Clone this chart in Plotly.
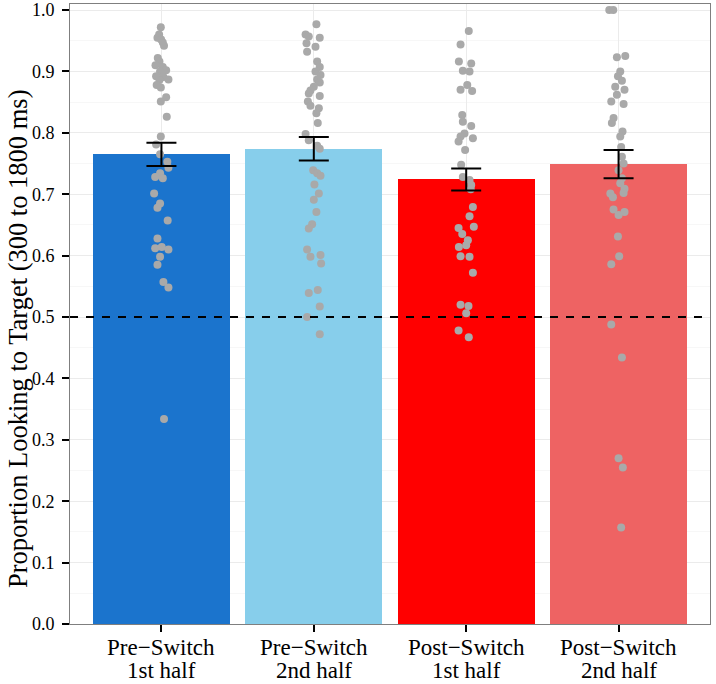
import plotly.graph_objects as go

# ---- data -----------------------------------------------------------------
cat_line1 = ["Pre\u2212Switch", "Pre\u2212Switch", "Post\u2212Switch", "Post\u2212Switch"]
cat_line2 = ["1st half", "2nd half", "1st half", "2nd half"]
bar_means = [0.765, 0.774, 0.724, 0.749]
bar_se = [0.019, 0.019, 0.018, 0.023]
bar_colors = ["#1B74CD", "#87CEEB", "#FF0000", "#EE6363"]

g1_vals = [0.972, 0.960, 0.955, 0.952, 0.947, 0.942, 0.922, 0.916, 0.910, 0.907,
           0.902, 0.900, 0.892, 0.891, 0.887, 0.886, 0.878, 0.874, 0.858, 0.851,
           0.826, 0.794, 0.781, 0.765, 0.753, 0.743, 0.734, 0.728, 0.726, 0.701,
           0.685, 0.678, 0.657, 0.628, 0.612, 0.614, 0.610, 0.598, 0.585, 0.557,
           0.548, 0.334]
g1_jit = [-0.004, -0.015, -0.026, -0.002, 0.009, 0.017, -0.024, -0.013, -0.039, 0.009,
          0.031, -0.009, -0.035, 0.013, 0.046, -0.013, -0.031, -0.004, 0.031, -0.004,
          0.035, -0.004, -0.035, -0.009, 0.039, 0.046, -0.009, -0.041, 0.009, -0.048,
          -0.009, -0.026, 0.041, -0.026, -0.041, 0.002, 0.046, -0.009, -0.026, 0.013,
          0.046, 0.017]

g2_vals = [0.977, 0.960, 0.957, 0.955, 0.946, 0.940, 0.932, 0.916, 0.907, 0.900,
           0.894, 0.887, 0.882, 0.875, 0.869, 0.864, 0.860, 0.851, 0.844, 0.840,
           0.832, 0.816, 0.798, 0.788, 0.779, 0.774, 0.739, 0.734, 0.730, 0.716,
           0.701, 0.691, 0.671, 0.651, 0.644, 0.610, 0.598, 0.601, 0.587, 0.539,
           0.544, 0.517, 0.500, 0.472]
g2_jit = [0.017, -0.054, -0.033, 0.039, -0.048, 0.011, -0.044, 0.022, 0.039, 0.011,
          0.044, 0.022, 0.039, 0.000, -0.022, -0.033, 0.039, -0.039, -0.022, 0.033,
          0.017, 0.026, -0.054, -0.033, 0.022, 0.039, -0.004, 0.022, 0.044, 0.004,
          0.033, 0.000, 0.017, -0.011, -0.033, -0.044, -0.022, 0.044, 0.048, -0.033,
          0.026, 0.039, -0.044, 0.039]

g3_vals = [0.966, 0.944, 0.916, 0.913, 0.901, 0.900, 0.878, 0.870, 0.868, 0.829,
           0.818, 0.811, 0.799, 0.794, 0.791, 0.786, 0.772, 0.748, 0.728, 0.723,
           0.715, 0.708, 0.679, 0.664, 0.647, 0.645, 0.635, 0.625, 0.614, 0.617,
           0.599, 0.598, 0.572, 0.520, 0.518, 0.506, 0.478, 0.467]
g3_jit = [0.017, -0.037, -0.048, 0.033, -0.022, 0.022, 0.007, -0.037, 0.039, -0.026,
          -0.022, 0.033, -0.011, -0.037, 0.044, -0.050, -0.007, -0.033, -0.022, 0.022,
          0.033, 0.030, 0.044, 0.022, 0.050, -0.050, -0.026, 0.011, -0.048, 0.000,
          -0.037, 0.022, 0.044, -0.037, 0.015, 0.000, -0.050, 0.017]

g4_vals = [1.000, 1.000, 0.923, 0.925, 0.900, 0.892, 0.885, 0.875, 0.870, 0.862,
           0.851, 0.847, 0.824, 0.816, 0.802, 0.794, 0.777, 0.761, 0.750, 0.739,
           0.726, 0.718, 0.709, 0.702, 0.701, 0.695, 0.675, 0.666, 0.671, 0.631,
           0.599, 0.586, 0.488, 0.434, 0.270, 0.255, 0.157]
g4_jit = [-0.061, -0.035, -0.011, 0.044, 0.011, -0.004, 0.022, -0.022, 0.039, -0.011,
          -0.048, 0.033, -0.033, -0.044, 0.026, 0.011, 0.017, 0.022, 0.033, 0.000,
          0.022, 0.011, 0.039, 0.033, -0.054, -0.037, -0.033, 0.000, 0.039, -0.004,
          0.004, -0.048, -0.048, 0.022, 0.000, 0.028, 0.017]

y_title = "Proportion Looking to Target (300 to 1800 ms)"
y_ticks = [0.0, 0.1, 0.2, 0.3, 0.4, 0.5, 0.6, 0.7, 0.8, 0.9, 1.0]
chance_level = 0.5

# ---- figure ---------------------------------------------------------------
FONT = "Liberation Serif"
positions = list(range(len(cat_line1)))

fig = go.Figure()
fig.add_trace(go.Bar(x=positions, y=bar_means, width=0.9,
                     marker=dict(color=bar_colors, line=dict(width=0)),
                     showlegend=False, hoverinfo="skip"))

groups = [(g1_vals, g1_jit), (g2_vals, g2_jit), (g3_vals, g3_jit), (g4_vals, g4_jit)]
for i, (vals, jit) in enumerate(groups):
    fig.add_trace(go.Scatter(x=[i + j for j in jit], y=vals, mode="markers",
                             marker=dict(color="#A9A9A9", size=8, line=dict(width=0)),
                             showlegend=False, hoverinfo="skip", cliponaxis=False))

fig.add_trace(go.Scatter(x=positions, y=bar_means, mode="markers",
                         marker=dict(size=1, opacity=0),
                         error_y=dict(type="data", array=bar_se, color="black",
                                      thickness=2, width=15),
                         showlegend=False, hoverinfo="skip"))

fig.add_shape(type="line", xref="paper", yref="y", x0=0, x1=1,
              y0=chance_level, y1=chance_level,
              line=dict(color="black", width=1.8, dash="8px,8px"), layer="above")

# two-line category labels under the axis
for i in positions:
    fig.add_annotation(x=i, xref="x", y=0, yref="paper", text=cat_line1[i],
                       showarrow=False, yanchor="top", yshift=-9,
                       font=dict(size=23, family=FONT, color="black"))
    fig.add_annotation(x=i, xref="x", y=0, yref="paper", text=cat_line2[i],
                       showarrow=False, yanchor="top", yshift=-32,
                       font=dict(size=23, family=FONT, color="black"))

# y-axis title
fig.add_annotation(x=-0.081, xref="paper", y=0.46, yref="paper", text=y_title,
                   textangle=-90, showarrow=False, xanchor="center", yanchor="middle",
                   font=dict(size=26.5, family=FONT, color="black"))

fig.update_layout(
    width=716, height=684,
    margin=dict(l=70, r=6, t=4, b=60),
    paper_bgcolor="white", plot_bgcolor="white",
    font=dict(family=FONT, color="black"),
    bargap=0,
    xaxis=dict(range=[-0.6, 3.6], tickmode="array", tickvals=positions,
               ticktext=["" for _ in positions], automargin=False,
               ticks="outside", ticklen=7, tickwidth=1.5, tickcolor="black",
               showgrid=True, gridcolor="#EBEBEB", gridwidth=1,
               showline=True, linecolor="#7F7F7F", linewidth=1, mirror=True,
               zeroline=False, fixedrange=True),
    yaxis=dict(range=[0, 1.0098], tickmode="array", tickvals=y_ticks,
               ticktext=[f"{v:.1f}" for v in y_ticks], automargin=False,
               tickfont=dict(size=18, family=FONT, color="black"),
               ticks="outside", ticklen=7, tickwidth=1.5, tickcolor="black",
               ticklabelstandoff=4,
               showgrid=True, gridcolor="#EBEBEB", gridwidth=1,
               minor=dict(dtick=0.05, tick0=0, showgrid=True, gridcolor="#F7F7F7",
                          gridwidth=1),
               showline=True, linecolor="#7F7F7F", linewidth=1, mirror=True,
               zeroline=False, fixedrange=True),
)

fig.write_html("out.html", config={"displayModeBar": False},
               post_script="document.body.style.margin='0';"
                           "document.body.style.overflow='hidden';")
